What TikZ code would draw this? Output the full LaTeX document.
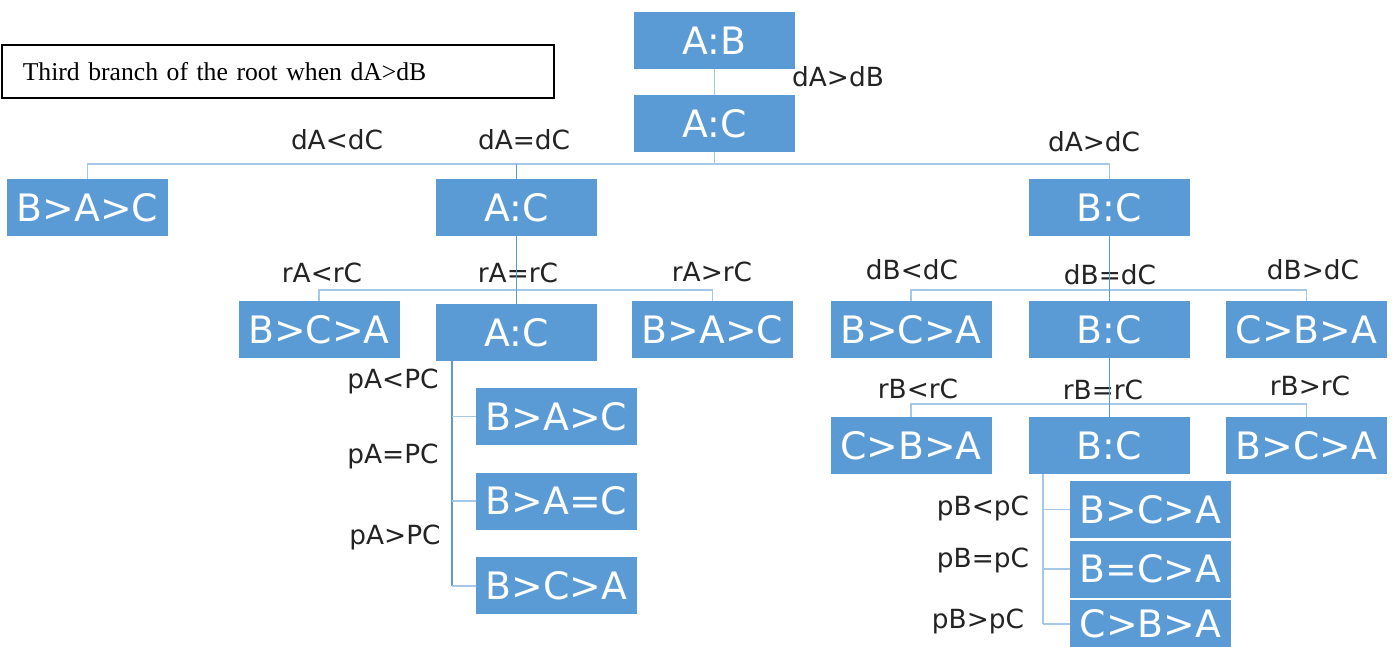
\documentclass[tikz,border=0pt]{standalone}
\usepackage{fontspec}
\setmainfont{Liberation Serif}
\newfontfamily\boxfont{DejaVu Sans}
\usetikzlibrary{positioning, calc}

\definecolor{boxblue}{RGB}{91,155,213}
\definecolor{twigblue}{RGB}{165,199,232}
\definecolor{lbltext}{RGB}{35,35,35}

\begin{document}
\begin{tikzpicture}[
  b/.style={fill=boxblue,text=white,inner sep=0,minimum width=3.22cm,minimum height=1.14cm,
    font=\boxfont\fontsize{21.5}{24}\selectfont},
  l/.style={text=lbltext,inner sep=0,font=\boxfont\fontsize{15}{17}\selectfont},
  stem/.style={draw=boxblue,line width=1.1pt},
  twig/.style={draw=twigblue,line width=1.1pt},
  node distance=5.4mm]
  \useasboundingbox (0,0) rectangle (27.94,-12.94);

  % caption box
  \node[draw,line width=0.9pt,anchor=north west,minimum height=1.06cm,text width=10.2cm,
    inner xsep=0.42cm,align=left,font=\fontsize{14.6}{18}\selectfont] (cap) at (0.02,-0.88)
    {Third branch of the root when dA>dB};

  % first levels
  \node[b](ab) at (14.29,-0.81){A:B};
  \node[b](ac0) at (14.29,-2.47){A:C};
  \node[b](bac1) at (1.75,-4.15){B>A>C};
  \node[b](ac1) at (10.33,-4.15){A:C};
  \node[b](bc1) at (22.19,-4.15){B:C};

  % dA=dC branch
  \node[b](bca2) at (6.38,-6.59){B>C>A};
  \node[b](ac2) at (10.33,-6.65){A:C};
  \node[b](bac2) at (14.25,-6.59){B>A>C};
  \node[b](bac3) at (11.13,-8.33){B>A>C};
  \node[b,below=of bac3](baec){B>A=C};
  \node[b,below=of baec](bca3){B>C>A};

  % dA>dC branch
  \node[b](bca4) at (18.22,-6.59){B>C>A};
  \node[b](bc2) at (22.19,-6.59){B:C};
  \node[b](cba1) at (26.13,-6.59){C>B>A};
  \node[b](cba2) at (18.22,-8.91){C>B>A};
  \node[b](bc3) at (22.19,-8.91){B:C};
  \node[b](bca5) at (26.13,-8.91){B>C>A};
  \node[b](bca6) at (23.01,-10.19){B>C>A};
  \node[b,below=0.4mm of bca6](bcea){B=C>A};
  \node[b,below=0.4mm of bcea,minimum height=0.95cm](cba3){C>B>A};

  % branch labels
  \node[l] at (16.76,-1.54){dA>dB};
  \node[l] at (6.74,-2.80){dA<dC};
  \node[l] at (10.48,-2.80){dA=dC};
  \node[l] at (21.88,-2.84){dA>dC};
  \node[l] at (6.44,-5.46){rA<rC};
  \node[l] at (10.36,-5.46){rA=rC};
  \node[l] at (14.24,-5.44){rA>rC};
  \node[l] at (7.86,-7.62){pA<PC};
  \node[l] at (7.86,-9.12){pA=PC};
  \node[l] at (7.90,-10.74){pA>PC};
  \node[l] at (18.24,-5.40){dB<dC};
  \node[l] at (22.20,-5.50){dB=dC};
  \node[l] at (26.26,-5.40){dB>dC};
  \node[l] at (18.36,-7.78){rB<rC};
  \node[l] at (22.06,-7.80){rB=rC};
  \node[l] at (26.20,-7.72){rB>rC};
  \node[l] at (19.66,-10.16){pB<pC};
  \node[l] at (19.66,-11.20){pB=pC};
  \node[l] at (19.56,-12.42){pB>pC};

  % connectors
  \coordinate (j0) at (14.29,-3.28);
  \coordinate (j1) at (10.33,-5.80);
  \coordinate (j2) at ($(ac2.south west)+(0.32,0)$);
  \coordinate (j3) at (22.19,-5.80);
  \coordinate (j4) at (22.19,-8.08);
  \coordinate (j5) at ($(bc3.south west)+(0.28,0)$);
  \draw[twig](ab)--(ac0);
  \draw[twig](ac0)--(j0);
  \draw[twig](bac1)|-(j0)-|(bc1);
  \draw[stem](ac1)--(ac1|-j0);
  \draw[twig](bca2)|-(j1)-|(bac2);
  \draw[stem](ac1)--(ac2);
  \draw[stem](j2)--(j2|-bca3.west);
  \foreach \n in {bac3,baec,bca3} \draw[twig](j2|-\n.west)--(\n.west);
  \draw[twig](bca4)|-(j3)-|(cba1);
  \draw[stem](bc1)--(bc2);
  \draw[twig](cba2)|-(j4)-|(bca5);
  \draw[stem](bc2)--(bc3);
  \draw[twig](j5)--(j5|-cba3.west);
  \foreach \n in {bca6,bcea,cba3} \draw[twig](j5|-\n.west)--(\n.west);
\end{tikzpicture}
\end{document}
